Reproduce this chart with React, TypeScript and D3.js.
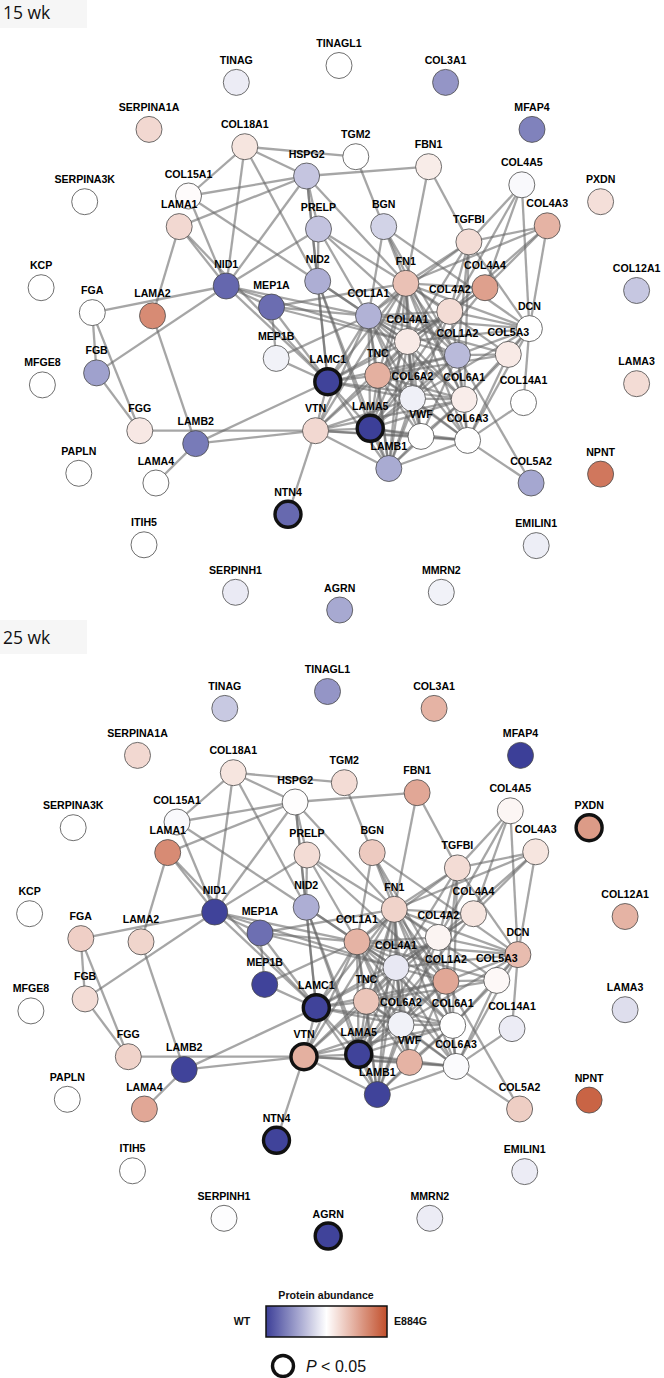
import React from 'react';
import * as d3 from 'd3';

// ---------- DATA ----------
const nodeNames = [
  'TINAGL1','TINAG','COL3A1','SERPINA1A','MFAP4','COL18A1','TGM2','HSPG2','FBN1','COL4A5',
  'PXDN','SERPINA3K','COL15A1','LAMA1','PRELP','BGN','TGFBI','COL4A3','KCP','NID1',
  'NID2','FN1','COL4A4','COL12A1','FGA','LAMA2','MEP1A','COL1A1','COL4A2','DCN',
  'COL4A1','COL1A2','COL5A3','MEP1B','FGB','MFGE8','LAMC1','TNC','COL6A2','COL6A1',
  'COL14A1','LAMA3','FGG','LAMB2','VTN','LAMA5','VWF','COL6A3','PAPLN','LAMA4',
  'LAMB1','COL5A2','NPNT','NTN4','ITIH5','EMILIN1','SERPINH1','AGRN','MMRN2'
];

// network layout (layout units)
const layoutX = [
  339, 236.3, 445.6, 149, 532, 244.8, 355.8, 306.6, 428.6, 521.8,
  600.6, 84.7, 188.5, 179.2, 318.5, 383.7, 468.9, 547.2, 41.1, 226.2,
  317.7, 405.8, 485, 636.6, 92.3, 152.5, 271.5, 368.5, 449.8, 529.4,
  407.5, 457.4, 508.3, 276.2, 96.6, 42.4, 327.8, 377.8, 412.5, 464.2,
  523.5, 636.6, 139.8, 195.7, 315.5, 370.2, 421, 467.6, 78.8, 155.9,
  388.8, 531.1, 600.6, 288, 144, 536.2, 235.5, 339.7, 441.3
];
const layoutY = [
  65.5, 82.4, 82.4, 129.4, 129.4, 146.7, 156.7, 176, 166.7, 184.8,
  201.7, 201.7, 196, 226.6, 229, 226.6, 241.9, 225.8, 287.7, 286,
  281.2, 283.3, 287.7, 290.5, 312.6, 315.8, 307, 315.8, 311.4, 328.6,
  341.5, 355.2, 354.4, 358.4, 372.9, 384.9, 381.7, 375.3, 398.6, 399.4,
  402.6, 383.7, 430.7, 443.6, 430.7, 428.3, 436.4, 440.4, 473.3, 483,
  468.5, 483, 474.1, 514.3, 544.8, 545.6, 592.3, 610, 592.3
];

// protein abundance (-1 = WT higher, +1 = E884G higher)
const abundance15wk = [
  0, -0.1, -0.55, 0.22, -0.65, 0.15, 0, -0.3, 0.11, -0.03,
  0.18, 0, 0.02, 0.22, -0.31, -0.23, 0.2, 0.43, 0, -0.79,
  -0.42, 0.35, 0.54, -0.29, 0, 0.66, -0.76, -0.4, 0.2, 0,
  0.12, -0.36, 0.12, -0.07, -0.49, 0, -0.98, 0.45, -0.08, 0.1,
  0, 0.2, 0.13, -0.69, 0.22, -1, 0, 0, 0, 0,
  -0.44, -0.46, 0.77, -0.78, 0, -0.09, -0.11, -0.45, -0.07
];
const abundance25wk = [
  -0.55, -0.28, 0.43, 0.22, -1, 0.15, 0.2, 0.01, 0.5, 0.05,
  0.57, 0, -0.03, 0.66, 0.2, 0.3, 0.2, 0.15, 0, -0.98,
  -0.42, 0.25, 0.15, 0.43, 0.27, 0.24, -0.75, 0.43, 0.06, 0.38,
  -0.12, 0.5, 0.04, -0.98, 0.2, 0, -0.98, 0.33, -0.07, 0,
  -0.1, -0.17, 0.25, -0.98, 0.45, -0.98, 0.43, -0.02, 0, 0.5,
  -0.98, 0.28, 0.88, -0.98, 0, -0.1, -0.01, -0.98, -0.1
];

const significant15wk = ['LAMC1', 'LAMA5', 'NTN4'];
const significant25wk = ['LAMC1', 'LAMA5', 'VTN', 'NTN4', 'AGRN', 'PXDN'];

const panelTitles = ['15 wk', '25 wk'];

const edges: [string, string][] = [
  ['COL18A1','HSPG2'],['COL18A1','TGM2'],['COL18A1','COL15A1'],['COL18A1','NID1'],['COL18A1','NID2'],
  ['HSPG2','COL15A1'],['HSPG2','LAMA1'],['HSPG2','NID1'],['HSPG2','PRELP'],['HSPG2','NID2'],
  ['HSPG2','FBN1'],['HSPG2','FN1'],['HSPG2','LAMC1'],
  ['TGM2','BGN'],['FBN1','FN1'],['FBN1','TGFBI'],
  ['COL15A1','NID1'],['COL15A1','NID2'],
  ['LAMA1','NID1'],['LAMA1','LAMA2'],['LAMA1','LAMC1'],
  ['NID1','MEP1A'],['NID1','LAMC1'],['NID1','PRELP'],['NID1','COL1A1'],['NID1','FGA'],['NID1','FGB'],['NID1','COL4A1'],
  ['FGA','FGB'],['FGA','FGG'],['FGB','FGG'],['FGG','VTN'],
  ['LAMA2','LAMB2'],['LAMB2','LAMA4'],['LAMB2','VTN'],['LAMB2','LAMC1'],
  ['VTN','NTN4'],['VTN','LAMC1'],['VTN','LAMA5'],['VTN','LAMB1'],['VTN','FN1'],['VTN','COL1A1'],
  ['VTN','TNC'],['VTN','VWF'],['VTN','COL6A3'],['VTN','COL4A1'],['VTN','COL6A2'],['VTN','COL6A1'],
  ['MEP1A','MEP1B'],['MEP1A','COL1A1'],['MEP1A','LAMC1'],['MEP1A','FN1'],['MEP1A','COL4A1'],
  ['MEP1B','COL1A1'],['MEP1B','LAMC1'],
  ['PRELP','NID2'],['PRELP','FN1'],['PRELP','COL1A1'],['PRELP','COL1A2'],
  ['NID2','LAMC1'],['NID2','COL1A1'],['NID2','LAMA5'],['NID2','COL4A1'],['NID2','LAMB1'],
  ['BGN','FN1'],['BGN','COL1A1'],['BGN','COL1A2'],['BGN','DCN'],['BGN','COL6A1'],
  ['TGFBI','FN1'],['TGFBI','COL1A1'],['TGFBI','COL4A1'],['TGFBI','COL4A2'],['TGFBI','COL1A2'],
  ['TGFBI','COL4A3'],['TGFBI','COL4A5'],['TGFBI','DCN'],['TGFBI','COL6A1'],
  ['COL4A5','COL4A4'],['COL4A5','DCN'],['COL4A5','COL4A2'],
  ['COL4A3','COL4A4'],['COL4A3','DCN'],['COL4A3','FN1'],['COL4A3','COL4A2'],
  ['COL4A4','FN1'],['COL4A4','COL4A2'],['COL4A4','COL4A1'],['COL4A4','LAMA5'],
  ['FN1','COL1A1'],['FN1','COL1A2'],['FN1','COL4A1'],['FN1','COL4A2'],['FN1','TNC'],['FN1','LAMC1'],
  ['FN1','LAMA5'],['FN1','LAMB1'],['FN1','COL6A1'],['FN1','COL6A2'],['FN1','COL6A3'],['FN1','VWF'],
  ['FN1','DCN'],['FN1','COL5A3'],
  ['COL1A1','COL1A2'],['COL1A1','COL4A1'],['COL1A1','TNC'],['COL1A1','COL6A1'],['COL1A1','COL6A2'],
  ['COL1A1','COL6A3'],['COL1A1','DCN'],['COL1A1','COL5A3'],['COL1A1','LAMC1'],['COL1A1','LAMA5'],
  ['COL1A1','LAMB1'],['COL1A1','VWF'],['COL1A1','COL4A2'],
  ['COL4A2','COL4A1'],['COL4A2','COL1A2'],['COL4A2','DCN'],['COL4A2','LAMC1'],['COL4A2','LAMA5'],
  ['COL4A2','LAMB1'],['COL4A2','TNC'],
  ['COL4A1','COL1A2'],['COL4A1','TNC'],['COL4A1','LAMC1'],['COL4A1','LAMA5'],['COL4A1','LAMB1'],
  ['COL4A1','COL6A1'],['COL4A1','COL6A2'],['COL4A1','COL6A3'],['COL4A1','VWF'],['COL4A1','DCN'],
  ['COL1A2','COL5A3'],['COL1A2','DCN'],['COL1A2','TNC'],['COL1A2','COL6A1'],['COL1A2','COL6A2'],
  ['COL1A2','COL6A3'],['COL1A2','LAMC1'],['COL1A2','LAMA5'],['COL1A2','VWF'],['COL1A2','COL5A2'],
  ['COL5A3','DCN'],['COL5A3','COL6A1'],['COL5A3','COL6A3'],['COL5A3','TNC'],
  ['DCN','COL6A1'],['DCN','COL14A1'],['DCN','COL6A2'],['DCN','COL6A3'],
  ['TNC','LAMC1'],['TNC','LAMA5'],['TNC','COL6A1'],['TNC','COL6A2'],['TNC','COL6A3'],['TNC','VWF'],['TNC','LAMB1'],
  ['COL6A2','COL6A1'],['COL6A2','COL6A3'],['COL6A2','VWF'],['COL6A2','LAMA5'],['COL6A2','LAMC1'],['COL6A2','LAMB1'],
  ['COL6A1','COL6A3'],['COL6A1','VWF'],['COL6A1','LAMA5'],['COL6A1','LAMB1'],
  ['COL6A3','VWF'],['COL6A3','LAMB1'],['COL6A3','COL5A2'],['COL6A3','LAMA5'],['COL6A3','COL14A1'],
  ['VWF','LAMA5'],['VWF','LAMB1'],
  ['LAMA5','LAMC1'],['LAMA5','LAMB1'],['LAMC1','LAMB1'],['LAMC1','COL6A1']
];

// ---------- RENDERING ----------
const W = 664;
const H = 1378;
const R = 13;

const colorScale = d3
  .scaleLinear<string>()
  .domain([-1, 0, 1])
  .range(['#3c3f98', '#ffffff', '#c24f2c'])
  .interpolate(d3.interpolateRgb);

const panels = [
  { title: panelTitles[0], values: abundance15wk, sig: significant15wk, dx: 0, dy: 0 },
  { title: panelTitles[1], values: abundance25wk, sig: significant25wk, dx: -11.5, dy: 626 },
];

const labelFont = '"Liberation Sans", Arial, Helvetica, sans-serif';

function Panel({ p }: { p: typeof panels[number] }) {
  const x = d3.scaleLinear().domain([0, W]).range([p.dx, p.dx + W]);
  const y = d3.scaleLinear().domain([0, H]).range([p.dy, p.dy + H]);
  const idx = new Map(nodeNames.map((n, i) => [n, i]));
  return (
    <g>
      <rect x={0} y={p.dy === 0 ? 0 : 620} width={87} height={p.dy === 0 ? 28 : 34} fill="#f6f6f6" />
      <text
        x={3}
        y={p.dy === 0 ? 19 : 644}
        fontFamily='"Open Sans", "Noto Sans", sans-serif'
        fontSize={17.5}
        fill="#111"
      >
        {p.title}
      </text>
      <g>
        {edges.map(([a, b], k) => {
          const i = idx.get(a)!;
          const j = idx.get(b)!;
          return (
            <line
              key={k}
              x1={x(layoutX[i])}
              y1={y(layoutY[i])}
              x2={x(layoutX[j])}
              y2={y(layoutY[j])}
              stroke="#666"
              strokeOpacity={0.58}
              strokeWidth={2.3}
            />
          );
        })}
      </g>
      <g>
        {nodeNames.map((n, i) => {
          const s = p.sig.includes(n);
          return (
            <g key={n}>
              <circle
                cx={x(layoutX[i])}
                cy={y(layoutY[i])}
                r={R}
                fill={colorScale(p.values[i])}
                stroke={s ? '#111' : '#4a4a4a'}
                strokeWidth={s ? 3.4 : 0.8}
              />
              <text
                x={x(layoutX[i])}
                y={y(layoutY[i]) - 18.5}
                textAnchor="middle"
                fontFamily={labelFont}
                fontWeight="bold"
                fontSize={10.6}
                fill="#000"
              >
                {n}
              </text>
            </g>
          );
        })}
      </g>
    </g>
  );
}

export default function App() {
  const stops = d3.range(0, 1.0001, 0.05);
  const legendX = d3.scaleLinear().domain([0, 1]).range([266, 387]);
  return (
    <svg
      width={W}
      height={H}
      style={{ position: 'absolute', left: 0, top: 0, background: '#fff' }}
    >
      <defs>
        <linearGradient id="abund" x1="0" x2="1" y1="0" y2="0">
          {stops.map((t) => (
            <stop key={t} offset={t} stopColor={colorScale(-1 + 2 * t)} />
          ))}
        </linearGradient>
      </defs>
      {panels.map((p) => (
        <Panel key={p.title} p={p} />
      ))}
      {/* legend */}
      <text x={326} y={1299} textAnchor="middle" fontFamily={labelFont} fontWeight="bold" fontSize={10.6} fill="#111">
        Protein abundance
      </text>
      <rect
        x={legendX(0)}
        y={1306}
        width={legendX(1) - legendX(0)}
        height={31}
        fill="url(#abund)"
        stroke="#111"
        strokeWidth={1.5}
      />
      <text x={242} y={1325} textAnchor="middle" fontFamily={labelFont} fontWeight="bold" fontSize={10.6} fill="#111">
        WT
      </text>
      <text x={394} y={1325} fontFamily={labelFont} fontWeight="bold" fontSize={10.6} fill="#111">
        E884G
      </text>
      <circle cx={283} cy={1366} r={10.5} fill="#fff" stroke="#111" strokeWidth={3.4} />
      <text x={306} y={1371.5} fontFamily={labelFont} fontSize={16} fill="#111">
        <tspan fontStyle="italic">P</tspan> &lt; 0.05
      </text>
    </svg>
  );
}
